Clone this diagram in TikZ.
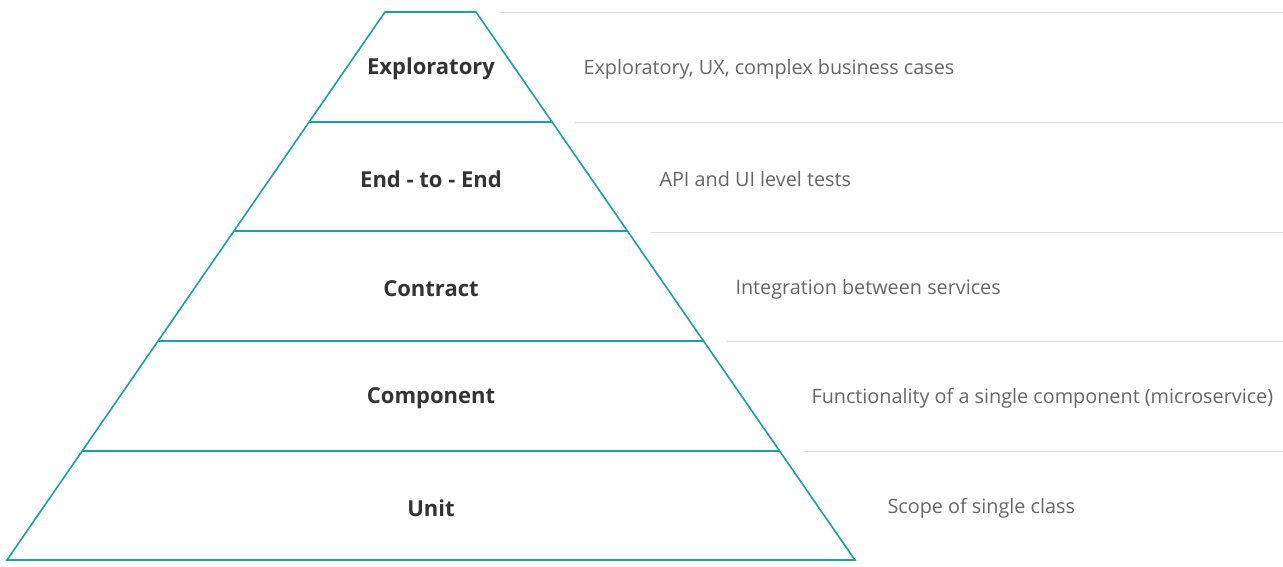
\documentclass[tikz,border=0pt]{standalone}
\usepackage{fontspec}
\setmainfont{Open Sans}
\usetikzlibrary{calc}
\definecolor{teal_line}{HTML}{1AA0A8}
\definecolor{grey_rule}{HTML}{DADADA}
\definecolor{label_text}{HTML}{333333}
\definecolor{desc_text}{HTML}{666666}
\begin{document}
\begin{tikzpicture}[x=1pt, y=-1pt,
        level_style/.style={font=\fontsize{22}{26}\selectfont\bfseries, text=label_text},
        desc_style/.style={anchor=west, font=\fontsize{19.8}{23}\selectfont, text=desc_text},
        edge_style/.style={draw=teal_line, line width=1.6pt},
        rule_style/.style={draw=grey_rule, line width=1pt}]

        \useasboundingbox (0,0) rectangle (1283,566);

        \coordinate (tl) at (385,12);
        \coordinate (tr) at (476,12);
        \coordinate (bl) at (7,560);
        \coordinate (br) at (855,560);

        \draw [edge_style, line join=miter] (tl) -- (tr) -- (br) -- (bl) -- cycle;

        \foreach \i/\y/\rx/\lab/\desc in {
            1/67/499/Exploratory/{Exploratory, UX, complex business cases},
            2/177/575/End - to - End/{API and UI level tests},
            3/287/651/Contract/{Integration between services},
            4/396/727/Component/{Functionality of a single component (microservice)},
            5/506/803/Unit/{Scope of single class}} {
            \node [level_style] (lev\i) at (431,\y+2) {\lab};
            \node [desc_style] (desc\i) at (\rx+81,\y+2) {\desc};
            \coordinate (rs\i) at (\rx,\y-54.5);
            \coordinate (re\i) at (1283,\y-54.5);
            \draw [rule_style] (rs\i) -- (re\i);
        }

        \foreach \y in {122,231,341,451} {
            \coordinate (sl) at ($(tl)!{(\y-12)/548}!(bl)$);
            \coordinate (sr) at ($(tr)!{(\y-12)/548}!(br)$);
            \draw [edge_style] (sl) -- (sr);
        }

        \end{tikzpicture}
\end{document}
